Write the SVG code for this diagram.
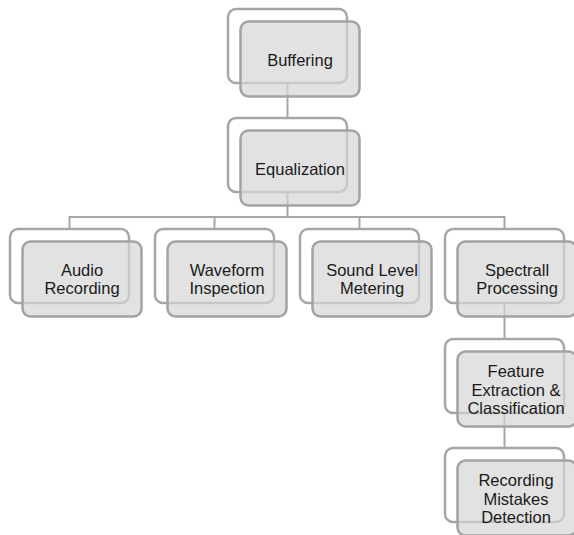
<svg xmlns="http://www.w3.org/2000/svg" width="574" height="535" viewBox="0 0 574 535">
<style>
.back{fill:#ffffff;stroke:#a6a6a6;stroke-width:2.5}
.front{fill:#d6d6d6;fill-opacity:0.7;stroke:#a3a3a3;stroke-width:2.5}
.conn{fill:none;stroke:#a6a6a6;stroke-width:2}
text{font-family:"Liberation Sans",Arial,sans-serif;font-size:16.5px;fill:#1a1a1a;text-anchor:middle}
</style>
<rect width="574" height="535" fill="#ffffff"/>
<g id="connectors">
<path class="conn" d="M287.5 83 V118"/>
<path class="conn" d="M287.5 192 V217"/>
<path class="conn" d="M69.5 229 V217 H504.5 V229"/>
<path class="conn" d="M214.5 217 V229"/>
<path class="conn" d="M359.5 217 V229"/>
<path class="conn" d="M504.5 303 V339"/>
<path class="conn" d="M504.5 413 V448"/>
</g>
<g id="buffering">
<rect class="back" x="228" y="9" width="119" height="74" rx="8"/>
<rect class="front" x="240.5" y="21.5" width="119" height="75" rx="8"/>
<text x="300" y="65.5">Buffering</text>
</g>
<g id="equalization">
<rect class="back" x="228" y="118" width="119" height="74" rx="8"/>
<rect class="front" x="240.5" y="130.5" width="119" height="75" rx="8"/>
<text x="300" y="174.5">Equalization</text>
</g>
<g id="audio-recording">
<rect class="back" x="10" y="229" width="119" height="74" rx="8"/>
<rect class="front" x="22.5" y="241.5" width="119" height="75" rx="8"/>
<text x="82" y="275.75">Audio</text>
<text x="82" y="294.25">Recording</text>
</g>
<g id="waveform-inspection">
<rect class="back" x="155" y="229" width="119" height="74" rx="8"/>
<rect class="front" x="167.5" y="241.5" width="119" height="75" rx="8"/>
<text x="227" y="275.75">Waveform</text>
<text x="227" y="294.25">Inspection</text>
</g>
<g id="sound-level-metering">
<rect class="back" x="300" y="229" width="119" height="74" rx="8"/>
<rect class="front" x="312.5" y="241.5" width="119" height="75" rx="8"/>
<text x="372" y="275.75">Sound Level</text>
<text x="372" y="294.25">Metering</text>
</g>
<g id="spectrall-processing">
<rect class="back" x="445" y="229" width="119" height="74" rx="8"/>
<rect class="front" x="457.5" y="241.5" width="119" height="75" rx="8"/>
<text x="517" y="275.75">Spectrall</text>
<text x="517" y="294.25">Processing</text>
</g>
<g id="feature-extraction">
<rect class="back" x="445" y="339" width="119" height="74" rx="8"/>
<rect class="front" x="457.5" y="351.5" width="119" height="75" rx="8"/>
<text x="516" y="377">Feature</text>
<text x="516" y="395.5">Extraction &amp;</text>
<text x="516" y="414">Classification</text>
</g>
<g id="recording-mistakes">
<rect class="back" x="445" y="448" width="119" height="74" rx="8"/>
<rect class="front" x="457.5" y="460.5" width="119" height="75" rx="8"/>
<text x="516" y="486">Recording</text>
<text x="516" y="504.5">Mistakes</text>
<text x="516" y="523">Detection</text>
</g>
</svg>
